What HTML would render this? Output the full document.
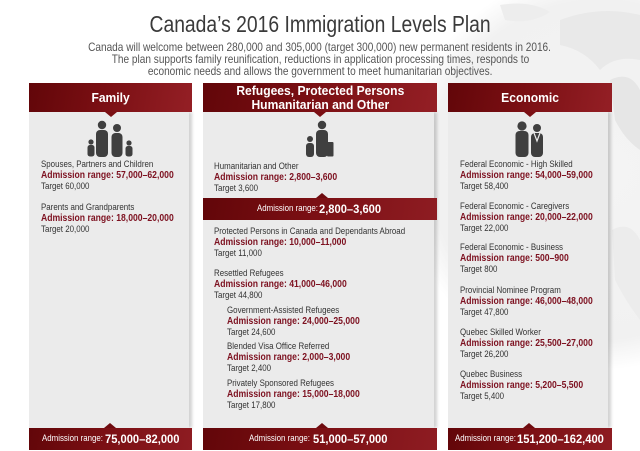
<!DOCTYPE html>
<html><head><meta charset="utf-8">
<style>
*{margin:0;padding:0;box-sizing:border-box}
html,body{width:640px;height:451px;overflow:hidden;background:#fff}
body{position:relative;font-family:"Liberation Sans",Arial,sans-serif;color:#333}
.abs{position:absolute;white-space:nowrap}
.title{left:0;width:640px;top:11px;text-align:center;font-size:23px;line-height:26px;color:#3a3a3a}
.title span{display:inline-block;transform:scaleX(0.84);transform-origin:center}
.sub{left:0;width:640px;text-align:center;font-size:12px;line-height:12px;color:#555}
.sub span{display:inline-block;transform:scaleX(0.84);transform-origin:center}
.hdr{position:absolute;top:83px;height:29px;background:linear-gradient(100deg,#620609 0%,#7a0f13 45%,#941f25 100%);color:#fff;font-weight:bold;font-size:13px;text-align:center}
.hdr:after{content:"";position:absolute;left:50%;bottom:-5px;margin-left:-6px;border-left:6px solid transparent;border-right:6px solid transparent;border-top:5px solid #7a0f13}
.hdr span{display:inline-block;transform:scaleX(0.93);transform-origin:center}
.panel{position:absolute;top:112px;height:316px;background:#ebebeb;box-shadow:3px 0 3px rgba(0,0,0,0.18)}
.bar{position:absolute;height:22px;background:linear-gradient(100deg,#620609 0%,#7a0f13 45%,#8e1c22 100%);color:#fff}
.bar .up{position:absolute;top:-5px;margin-left:-6px;width:0;height:0;border-left:6px solid transparent;border-right:6px solid transparent;border-bottom:5px solid #6e0b0f}
.reg{position:absolute;font-size:9.5px;line-height:22px;top:0;transform:scaleX(0.83);transform-origin:left center;white-space:nowrap}
.bld{position:absolute;font-size:12px;font-weight:bold;line-height:22px;top:0;transform:scaleX(0.93);transform-origin:left center;white-space:nowrap}
.grp{position:absolute;font-size:9px;line-height:11px;transform:scaleX(0.88);transform-origin:left top;white-space:nowrap;color:#333}
.grp b{font-size:9.8px;color:#7d1120}
</style></head><body>

<svg class="abs" style="left:0;top:0" width="640" height="451">
  <defs>
    <radialGradient id="g" cx="0.5" cy="0.5" r="0.5">
      <stop offset="0" stop-color="#f4f4f4"/>
      <stop offset="0.85" stop-color="#f1f1f1"/>
      <stop offset="1" stop-color="#ffffff"/>
    </radialGradient>
  </defs>
  <circle cx="600" cy="170" r="200" fill="url(#g)"/>
  <path d="M560 20 Q600 5 640 15 L640 60 Q615 55 600 70 Q585 50 560 45 Z" fill="#e9e9e9"/>
  <path d="M610 80 Q630 70 640 90 L640 150 Q625 140 615 120 Z" fill="#e6e6e6"/>
  <path d="M612 230 Q630 220 640 240 L640 320 Q625 300 615 280 Z" fill="#ececec"/>
  <path d="M500 5 Q530 0 550 12 Q530 25 505 20 Z" fill="#ededed"/>
</svg>

<div class="abs title"><span>Canada’s 2016 Immigration Levels Plan</span></div>
<div class="abs sub" style="top:41px"><span>Canada will welcome between 280,000 and 305,000 (target 300,000) new permanent residents in 2016.</span></div>
<div class="abs sub" style="top:53px"><span>The plan supports family reunification, reductions in application processing times, responds to</span></div>
<div class="abs sub" style="top:65px"><span>economic needs and allows the government to meet humanitarian objectives.</span></div>

<!-- panels -->
<div class="panel" style="left:29px;width:160px"></div>
<div class="panel" style="left:203px;width:231px"></div>
<div class="panel" style="left:448px;width:160px"></div>

<div class="hdr" style="left:29px;width:163px;line-height:29px"><span>Family</span></div>
<div class="hdr" style="left:203px;width:234px;line-height:14px;padding-top:1px"><span>Refugees, Protected Persons<br>Humanitarian and Other</span></div>
<div class="hdr" style="left:448px;width:164px;line-height:29px"><span>Economic</span></div>

<!-- icons -->
<svg class="abs" style="left:0;top:0" width="640" height="451">
  <g fill="#3f3f3f">
    <!-- family -->
    <circle cx="91" cy="142" r="2.6"/><rect x="87.5" y="145" width="7" height="11.5" rx="2.5"/>
    <circle cx="102" cy="125" r="4.2"/><rect x="96" y="130" width="12" height="27" rx="4"/>
    <circle cx="117" cy="128" r="4"/><rect x="111.5" y="133" width="11" height="24" rx="4"/>
    <circle cx="129" cy="143" r="2.6"/><rect x="125.5" y="146" width="7" height="10.5" rx="2.5"/>
    <!-- refugees -->
    <circle cx="310" cy="139" r="3"/><rect x="306" y="143" width="8" height="14" rx="3"/>
    <circle cx="322" cy="125" r="4.2"/><rect x="316" y="130" width="12" height="27" rx="4"/>
    <rect x="327" y="142" width="6.5" height="14.5" rx="1"/>
    <!-- economic -->
    <circle cx="522" cy="126" r="4.6"/><rect x="515.5" y="131" width="13" height="26" rx="4"/>
    <circle cx="537" cy="128" r="4"/><rect x="531" y="133" width="12" height="24" rx="4"/>
  </g>
  <path d="M534 133 L537 141 L540 133" fill="none" stroke="#ececec" stroke-width="1.2"/>
</svg>

<!-- family text -->
<div class="grp" style="left:41px;top:159px">Spouses, Partners and Children<br><b>Admission range: 57,000–62,000</b><br>Target 60,000</div>
<div class="grp" style="left:41px;top:202px">Parents and Grandparents<br><b>Admission range: 18,000–20,000</b><br>Target 20,000</div>

<!-- center text -->
<div class="grp" style="left:214px;top:161px">Humanitarian and Other<br><b>Admission range: 2,800–3,600</b><br>Target 3,600</div>
<div class="grp" style="left:214px;top:226px">Protected Persons in Canada and Dependants Abroad<br><b>Admission range: 10,000–11,000</b><br>Target 11,000</div>
<div class="grp" style="left:214px;top:268px">Resettled Refugees<br><b>Admission range: 41,000–46,000</b><br>Target 44,800</div>
<div class="grp" style="left:227px;top:305px">Government-Assisted Refugees<br><b>Admission range: 24,000–25,000</b><br>Target 24,600</div>
<div class="grp" style="left:227px;top:341px">Blended Visa Office Referred<br><b>Admission range: 2,000–3,000</b><br>Target 2,400</div>
<div class="grp" style="left:227px;top:378px">Privately Sponsored Refugees<br><b>Admission range: 15,000–18,000</b><br>Target 17,800</div>

<!-- economic text -->
<div class="grp" style="left:460px;top:159px">Federal Economic - High Skilled<br><b>Admission range: 54,000–59,000</b><br>Target 58,400</div>
<div class="grp" style="left:460px;top:201px">Federal Economic - Caregivers<br><b>Admission range: 20,000–22,000</b><br>Target 22,000</div>
<div class="grp" style="left:460px;top:242px">Federal Economic - Business<br><b>Admission range: 500–900</b><br>Target 800</div>
<div class="grp" style="left:460px;top:285px">Provincial Nominee Program<br><b>Admission range: 46,000–48,000</b><br>Target 47,800</div>
<div class="grp" style="left:460px;top:327px">Quebec Skilled Worker<br><b>Admission range: 25,500–27,000</b><br>Target 26,200</div>
<div class="grp" style="left:460px;top:369px">Quebec Business<br><b>Admission range: 5,200–5,500</b><br>Target 5,400</div>

<!-- mid bar -->
<div class="bar" style="left:203px;top:198px;width:234px">
  <div class="up" style="left:119px"></div>
  <div class="reg" style="left:54px">Admission range:</div>
  <div class="bld" style="left:116px">2,800–3,600</div>
</div>

<!-- bottom bars -->
<div class="bar" style="left:29px;top:428px;width:163px">
  <div class="up" style="left:81px"></div>
  <div class="reg" style="left:13px">Admission range:</div>
  <div class="bld" style="left:76px">75,000–82,000</div>
</div>
<div class="bar" style="left:203px;top:428px;width:234px">
  <div class="up" style="left:119px"></div>
  <div class="reg" style="left:46px">Admission range:</div>
  <div class="bld" style="left:110px">51,000–57,000</div>
</div>
<div class="bar" style="left:448px;top:428px;width:164px">
  <div class="up" style="left:81px"></div>
  <div class="reg" style="left:7px">Admission range:</div>
  <div class="bld" style="left:69px">151,200–162,400</div>
</div>

</body></html>
